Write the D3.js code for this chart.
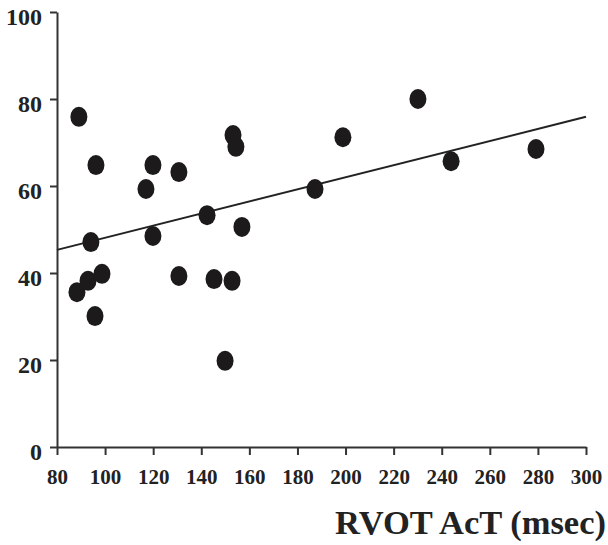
<!DOCTYPE html>
<html>
<head>
<meta charset="utf-8">
<script src="https://cdn.jsdelivr.net/npm/d3@7"></script>
<style>
  body { margin: 0; background: #fff; }
  svg { display: block; }
  .tick text { font-family: "Liberation Serif", "Times New Roman", serif; font-weight: bold; fill: #222; }
</style>
</head>
<body>
<div id="chart"></div>
<script>
// RVOT acceleration time (msec) vs. value
const actValues = [89.1, 96.2, 117, 119.9, 130.7, 153.2, 154.4, 198.9, 230.1, 187.3, 243.9, 279.2,
                   94.1, 119.9, 142.4, 156.9, 88.3, 92.9, 98.7, 95.8, 130.7, 145.3, 152.8, 149.9];
const yValues = [75.9, 64.8, 59.3, 64.8, 63.2, 71.7, 69, 71.2, 80, 59.3, 65.7, 68.5,
                 47.1, 48.5, 53.3, 50.6, 35.6, 38.2, 39.8, 30.1, 39.3, 38.6, 38.2, 19.8];

// fitted line
const fitIntercept = 34.2;
const fitSlope = 0.139;

const xTicks = [80, 100, 120, 140, 160, 180, 200, 220, 240, 260, 280, 300];
const yTicks = [0, 20, 40, 60, 80, 100];

const width = 608, height = 545;
const margin = { top: 12, right: 22, bottom: 98, left: 57 };

const svg = d3.select("#chart")
    .append("svg")
    .attr("width", width)
    .attr("height", height);

const x = d3.scaleLinear()
    .domain([80, 300])
    .range([margin.left, width - margin.right]);

const y = d3.scaleLinear()
    .domain([0, 100])
    .range([height - margin.bottom, margin.top]);

// x axis
const xAxis = svg.append("g")
    .attr("transform", `translate(0,${height - margin.bottom})`)
    .call(d3.axisBottom(x).tickValues(xTicks).tickSize(8).tickPadding(14).tickSizeOuter(0));
xAxis.selectAll("text").attr("font-size", 21);

// y axis
const yAxis = svg.append("g")
    .attr("transform", `translate(${margin.left},0)`)
    .call(d3.axisLeft(y).tickValues(yTicks).tickSize(7).tickPadding(8).tickSizeOuter(0));
yAxis.selectAll("text").attr("font-size", 24).attr("dy", "0.5em");

svg.selectAll(".domain, .tick line")
    .attr("stroke", "#333")
    .attr("stroke-width", 2);

// regression line
svg.append("line")
    .attr("x1", x(80))
    .attr("y1", y(fitIntercept + fitSlope * 80))
    .attr("x2", x(300))
    .attr("y2", y(fitIntercept + fitSlope * 300))
    .attr("stroke", "#222")
    .attr("stroke-width", 2);

// points
svg.selectAll(".dot")
    .data(actValues.map((d, i) => ({ x: d, y: yValues[i] })))
    .enter()
    .append("ellipse")
    .attr("class", "dot")
    .attr("cx", d => x(d.x))
    .attr("cy", d => y(d.y))
    .attr("rx", 8.5)
    .attr("ry", 10)
    .attr("fill", "#1c1a1b");

// axis title
svg.append("text")
    .attr("x", 606)
    .attr("y", 534)
    .attr("text-anchor", "end")
    .attr("font-family", "Liberation Serif, Times New Roman, serif")
    .attr("font-weight", "bold")
    .attr("font-size", 34.5)
    .attr("fill", "#222")
    .text("RVOT AcT (msec)");
</script>
</body>
</html>
